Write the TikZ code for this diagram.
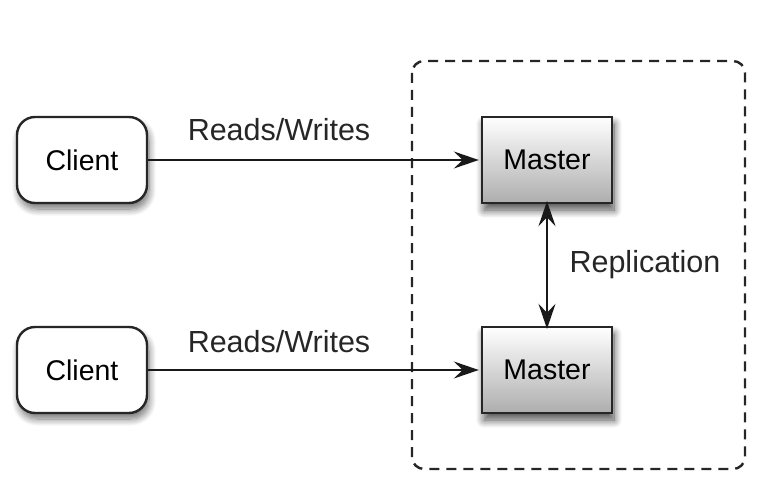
\documentclass[tikz,border=0pt]{standalone}
\usepackage{fontspec}
\setmainfont{Liberation Sans}
\usetikzlibrary{arrows.meta,shadows.blur}
\begin{document}
\begin{tikzpicture}[x=1pt,y=-1pt,
  clientbox/.style={draw=black!85, line width=2.4pt, rounded corners=18pt, fill=white,
    minimum width=130pt, minimum height=86pt, inner sep=0pt,
    font=\fontsize{28.5}{32}\selectfont,
    blur shadow={shadow xshift=2pt, shadow yshift=-6pt, shadow blur radius=7pt, shadow blur steps=10, shadow opacity=55}},
  masterbox/.style={draw=black!85, line width=2.4pt, top color=white, bottom color=black!32,
    minimum width=130pt, minimum height=86pt, inner sep=0pt,
    font=\fontsize{28.5}{32}\selectfont,
    blur shadow={shadow xshift=2pt, shadow yshift=-7pt, shadow blur radius=8pt, shadow blur steps=10, shadow opacity=70}},
  conn/.style={line width=2.2pt, draw=black!90},
  lbl/.style={font=\fontsize{30.5}{34}\selectfont, inner sep=0pt, text=black!85},
  grp/.style={draw=black!85, line width=2.4pt, dash pattern=on 10pt off 7pt, rounded corners=12pt}
]
\useasboundingbox (0,0) rectangle (768,492);
\draw[grp] (412,61) rectangle (745,469);
\node[clientbox] (c1) at (82,160) {Client};
\node[clientbox] (c2) at (82,370) {Client};
\node[masterbox] (m1) at (547,160) {Master};
\node[masterbox] (m2) at (547,370) {Master};
\draw[conn, arrows={-Stealth[length=25pt,width=17pt,inset=9pt]}] (c1.east) -- ([xshift=-2pt]m1.west);
\draw[conn, arrows={-Stealth[length=25pt,width=17pt,inset=9pt]}] (c2.east) -- ([xshift=-2pt]m2.west);
\draw[conn, arrows={Stealth[length=25pt,width=17pt,inset=9pt]-Stealth[length=25pt,width=17pt,inset=9pt]}] ([yshift=3pt]m1.south) -- ([yshift=-3pt]m2.north);
\node[lbl] (l1) at (279,130) {Reads/Writes};
\node[lbl] (l2) at (279,342) {Reads/Writes};
\node[lbl] (l3) at (645,265) {Replication};
\end{tikzpicture}
\end{document}
